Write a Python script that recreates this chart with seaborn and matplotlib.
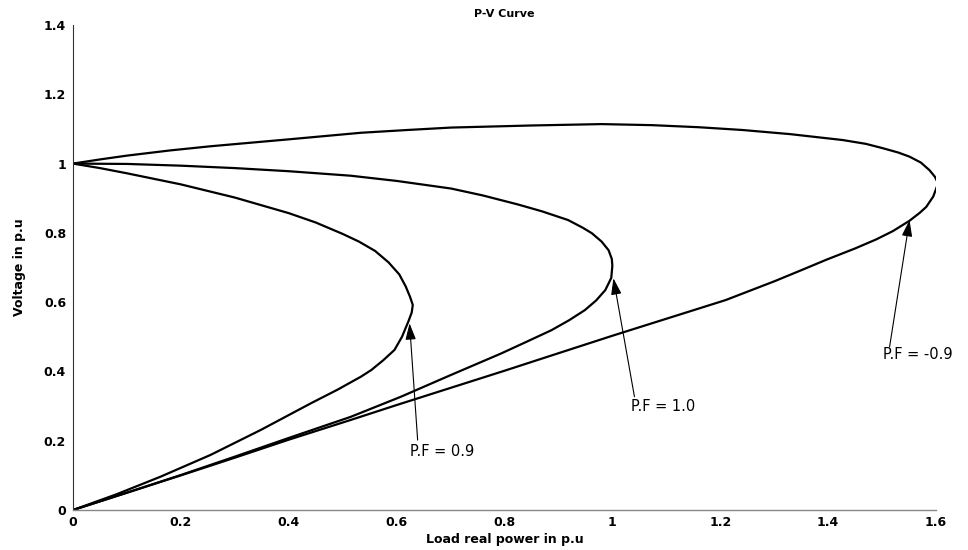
import numpy as np
import pandas as pd
import seaborn as sns
import matplotlib
matplotlib.use("Agg")
import matplotlib.pyplot as plt

# ---- data ----
pf09_p = [0.0, 0.05, 0.1, 0.2, 0.3, 0.4, 0.45, 0.5, 0.53, 0.56, 0.585, 0.605, 0.617, 0.625, 0.630,
          0.628, 0.622, 0.610, 0.596, 0.575, 0.553, 0.534, 0.49, 0.441, 0.348, 0.255, 0.162, 0.08, 0.0]
pf09_v = [1.0, 0.987, 0.972, 0.940, 0.902, 0.857, 0.830, 0.797, 0.775, 0.748, 0.715, 0.680, 0.645, 0.615, 0.592,
          0.570, 0.545, 0.500, 0.462, 0.432, 0.404, 0.385, 0.347, 0.308, 0.231, 0.159, 0.096, 0.045, 0.0]

pf10_p = [0.0, 0.1, 0.2, 0.3, 0.4, 0.515, 0.6, 0.701, 0.76, 0.825, 0.87, 0.918, 0.945, 0.962, 0.980,
          0.993, 0.999, 1.0, 0.998, 0.987, 0.970, 0.949, 0.92, 0.887, 0.84, 0.794, 0.701, 0.608,
          0.515, 0.4, 0.3, 0.2, 0.1, 0.0]
pf10_v = [1.0, 0.999, 0.994, 0.987, 0.978, 0.965, 0.950, 0.928, 0.908, 0.882, 0.862, 0.837, 0.815, 0.799, 0.775,
          0.750, 0.725, 0.705, 0.670, 0.635, 0.605, 0.577, 0.548, 0.519, 0.485, 0.452, 0.390, 0.327,
          0.269, 0.208, 0.154, 0.101, 0.050, 0.0]

pfm09_p = [0.0, 0.05, 0.1, 0.18, 0.255, 0.4, 0.534, 0.62, 0.701, 0.85, 0.98, 1.073, 1.16, 1.241, 1.33,
           1.427, 1.47, 1.5, 1.53, 1.551, 1.572, 1.588, 1.598, 1.604,
           1.595, 1.582, 1.57, 1.551, 1.52, 1.489, 1.45, 1.396, 1.353, 1.3, 1.21, 1.055, 1.0,
           0.887, 0.8, 0.701, 0.6, 0.515, 0.4, 0.3, 0.2, 0.1, 0.0]
pfm09_v = [1.0, 1.012, 1.023, 1.038, 1.050, 1.070, 1.089, 1.097, 1.104, 1.110, 1.114, 1.111, 1.105, 1.097, 1.085,
           1.068, 1.057, 1.045, 1.032, 1.020, 1.003, 0.981, 0.962, 0.943,
           0.905, 0.875, 0.858, 0.835, 0.805, 0.781, 0.755, 0.722, 0.694, 0.660, 0.606, 0.530, 0.503,
           0.446, 0.402, 0.353, 0.303, 0.260, 0.203, 0.151, 0.100, 0.050, 0.0]

labels = ["P.F = 0.9", "P.F = 1.0", "P.F = -0.9"]
arrow_heads = [(0.624, 0.539), (1.002, 0.669), (1.551, 0.837)]
arrow_tails = [(0.639, 0.202), (1.041, 0.327), (1.514, 0.471)]
label_pos = [(0.624, 0.168), (1.035, 0.300), (1.502, 0.450)]

x_ticks = [0, 0.2, 0.4, 0.6, 0.8, 1.0, 1.2, 1.4, 1.6]
x_ticklabels = ["0", "0.2", "0.4", "0.6", "0.8", "1", "1.2", "1.4", "1.6"]
y_ticks = [0, 0.2, 0.4, 0.6, 0.8, 1.0, 1.2, 1.4]
y_ticklabels = ["0", "0.2", "0.4", "0.6", "0.8", "1", "1.2", "1.4"]

# ---- plot ----
sns.set_style("white")
plt.rcParams["font.family"] = ["DejaVu Sans"]
plt.rcParams["text.color"] = "black"
plt.rcParams["axes.labelcolor"] = "black"
plt.rcParams["xtick.color"] = "black"
plt.rcParams["ytick.color"] = "black"

fig = plt.figure(figsize=(9.68, 5.5), dpi=100)
ax = fig.add_axes([0.0754, 0.0727, 0.8915, 0.8818])

for p, v in [(pf09_p, pf09_v), (pf10_p, pf10_v), (pfm09_p, pfm09_v)]:
    df = pd.DataFrame({"P": p, "V": v})
    sns.lineplot(data=df, x="P", y="V", sort=False, estimator=None,
                 color="black", linewidth=1.6, ax=ax,
                 solid_joinstyle="round", solid_capstyle="round")

for lab, head, tail, pos in zip(labels, arrow_heads, arrow_tails, label_pos):
    ax.annotate("", xy=head, xytext=tail,
                arrowprops=dict(arrowstyle="-|>,head_length=1.0,head_width=0.32",
                                color="black", lw=0.8, shrinkA=0, shrinkB=0,
                                mutation_scale=10))
    ax.text(pos[0], pos[1], lab, ha="left", va="center", fontsize=10.5,
            color="black", clip_on=False)

ax.set_xlim(0, 1.6)
ax.set_ylim(0, 1.4)
ax.set_xticks(x_ticks)
ax.set_xticklabels(x_ticklabels, fontweight="bold", fontsize=9)
ax.set_yticks(y_ticks)
ax.set_yticklabels(y_ticklabels, fontweight="bold", fontsize=9)
ax.tick_params(axis="both", direction="in", length=4, width=0.8, colors="black")
ax.tick_params(axis="x", pad=4)
ax.tick_params(axis="y", pad=5)

for s in ["top", "right"]:
    ax.spines[s].set_visible(False)
ax.spines["left"].set_color("#333333")
ax.spines["bottom"].set_color("#888888")
ax.spines["left"].set_linewidth(0.8)
ax.spines["bottom"].set_linewidth(1.0)

ax.set_xlabel("Load real power in p.u", fontweight="bold", fontsize=9, labelpad=3, color="black")
ax.set_ylabel("Voltage in p.u", fontweight="bold", fontsize=9, labelpad=13, color="black")
ax.set_title("P-V Curve", fontweight="bold", fontsize=8, pad=6, color="black")

fig.savefig("out.png", dpi=100)
